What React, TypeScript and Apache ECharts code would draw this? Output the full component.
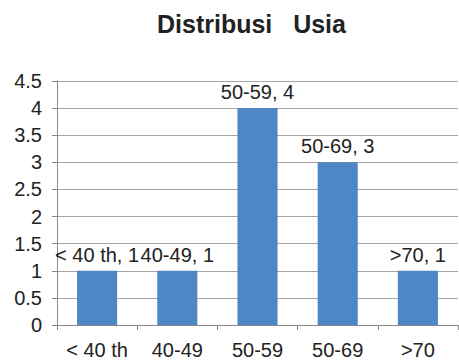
import React, { useEffect, useRef } from "react";
import * as echarts from "echarts";

const title = "Distribusi   Usia";
const categories = ["< 40 th", "40-49", "50-59", "50-69", ">70"];
const values = [1, 1, 4, 3, 1];
const yMin = 0;
const yMax = 4.5;
const yStep = 0.5;

export default function App() {
  const ref = useRef<HTMLDivElement>(null);
  useEffect(() => {
    if (!ref.current) return;
    const chart = echarts.init(ref.current, null, { renderer: "svg" });
    const font = "'Liberation Sans', Arial, sans-serif";
    chart.setOption({
      animation: false,
      title: {
        text: title,
        left: 152,
        top: 6,
        textStyle: { fontFamily: font, fontSize: 25, fontWeight: "bold", color: "#222" },
      },
      grid: { left: 57, right: 1, top: 81, bottom: 37, containLabel: false },
      xAxis: {
        type: "category",
        data: categories,
        boundaryGap: true,
        axisLine: { lineStyle: { color: "#888", width: 1 } },
        axisTick: { show: true, length: 5, lineStyle: { color: "#888" } },
        axisLabel: { interval: 0, fontFamily: font, fontSize: 20, color: "#222", margin: 15 },
      },
      yAxis: {
        type: "value",
        min: yMin,
        max: yMax,
        interval: yStep,
        axisLine: { show: true, lineStyle: { color: "#888" } },
        axisTick: { show: true, length: 5, lineStyle: { color: "#888" } },
        axisLabel: { fontFamily: font, fontSize: 20, color: "#222", margin: 15 },
        splitLine: { lineStyle: { color: "#a6a6a6", width: 1 } },
      },
      series: [
        {
          type: "bar",
          data: values,
          barWidth: "50%",
          itemStyle: { color: "#4f86c6" },
          label: {
            show: true,
            position: "top",
            distance: 6,
            formatter: "{b}, {c}",
            fontFamily: font,
            fontSize: 20,
            color: "#222",
          },
        },
      ],
    });
    return () => chart.dispose();
  }, []);
  return <div ref={ref} style={{ width: 459, height: 362, position: "absolute", left: 0, top: 0 }} />;
}
